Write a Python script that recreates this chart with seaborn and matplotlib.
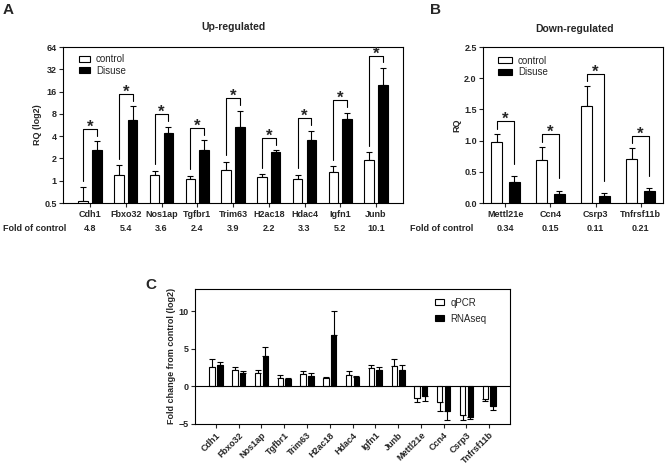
import numpy as np
import pandas as pd
import matplotlib
matplotlib.use('Agg')
import matplotlib.pyplot as plt
import matplotlib.transforms as mtransforms
from matplotlib.ticker import NullLocator
from matplotlib.patches import Patch
import seaborn as sns

# ---- data ----
genes_up = ['Cdh1', 'Fbxo32', 'Nos1ap', 'Tgfbr1', 'Trim63', 'H2ac18', 'Hdac4', 'Igfn1', 'Junb']
ctrl_up = [0.53, 1.21, 1.21, 1.04, 1.39, 1.13, 1.07, 1.32, 1.90]
ctrl_up_err = [0.28, 0.41, 0.14, 0.12, 0.41, 0.09, 0.13, 0.25, 0.53]
dis_up = [2.57, 6.7, 4.47, 2.57, 5.38, 2.44, 3.55, 6.9, 19.4]
dis_up_err = [0.83, 3.4, 0.88, 0.94, 3.42, 0.13, 1.2, 1.4, 14.0]
fold_up = [4.8, 5.4, 3.6, 2.4, 3.9, 2.2, 3.3, 5.2, 10.1]

genes_down = ['Mettl21e', 'Ccn4', 'Csrp3', 'Tnfrsf11b']
ctrl_down = [0.98, 0.69, 1.56, 0.71]
ctrl_down_err = [0.13, 0.21, 0.31, 0.17]
dis_down = [0.33, 0.15, 0.12, 0.20]
dis_down_err = [0.10, 0.05, 0.04, 0.04]
fold_down = [0.34, 0.15, 0.11, 0.21]

genes_all = genes_up + genes_down
qpcr = [2.5, 2.2, 1.75, 1.07, 1.57, 1.03, 1.48, 2.38, 2.69, -1.52, -2.15, -3.9, -1.7]
qpcr_err = [1.1, 0.3, 0.45, 0.36, 0.49, 0.17, 0.49, 0.49, 0.9, 0.58, 1.2, 0.6, 0.27]
rnaseq = [2.8, 1.7, 4.1, 0.95, 1.4, 6.86, 1.25, 2.2, 2.1, -1.26, -3.35, -4.1, -2.6]
rnaseq_err = [0.4, 0.3, 1.1, 0.15, 0.4, 3.24, 0.14, 0.4, 0.68, 0.7, 1.2, 0.3, 0.54]

up_ticks = [0.5, 1, 2, 4, 8, 16, 32, 64]

sns.set_style('ticks')
plt.rcParams['font.family'] = ['Liberation Sans', 'DejaVu Sans']
plt.rcParams['axes.linewidth'] = 0.8
plt.rcParams['xtick.major.width'] = 0.8
plt.rcParams['ytick.major.width'] = 0.8
plt.rcParams['xtick.major.size'] = 3
plt.rcParams['ytick.major.size'] = 3
plt.rcParams['xtick.major.pad'] = 2
plt.rcParams['ytick.major.pad'] = 1.5

TICK = 6.5


def grouped_bars(ax, genes, a, b, a_err, b_err, names, width, gap):
    df = pd.DataFrame({'gene': genes * 2, 'val': a + b,
                       'grp': [names[0]] * len(genes) + [names[1]] * len(genes)})
    sns.barplot(data=df, x='gene', y='val', hue='grp', palette=['white', 'black'],
                edgecolor='black', linewidth=0.8, width=width, gap=gap,
                errorbar=None, legend=False, ax=ax, zorder=2)
    xs_all = []
    for cont, vals, errs in zip(ax.containers, [a, b], [a_err, b_err]):
        xs = [p.get_x() + p.get_width() / 2 for p in cont]
        lo = [e if v < 0 else 0 for v, e in zip(vals, errs)]
        hi = [0 if v < 0 else e for v, e in zip(vals, errs)]
        ax.errorbar(xs, vals, yerr=[lo, hi], fmt='none', ecolor='black',
                    elinewidth=0.8, capsize=2.2, capthick=0.8, zorder=1)
        xs_all.append(xs)
    ax.set_xlabel('')
    return xs_all


def legend(ax, names, x, y, hl, spacing, fs=7):
    handles = [Patch(facecolor='white', edgecolor='black', linewidth=0.8, label=names[0]),
               Patch(facecolor='black', edgecolor='black', linewidth=0.8, label=names[1])]
    ax.legend(handles=handles, loc='upper left', bbox_to_anchor=(x, y), frameon=False,
              borderpad=0, borderaxespad=0, handlelength=hl, handleheight=0.6,
              handletextpad=0.6, labelspacing=spacing,
              prop={'size': fs, 'weight': 'normal'})


def star(ax, x0, x1, top, lend, rend):
    ax.plot([x0, x0, x1, x1], [lend, top, top, rend], color='black', lw=0.8)
    ax.annotate('*', xy=((x0 + x1) / 2, top), xytext=(0, -2), textcoords='offset points',
                ha='center', va='baseline', fontsize=12, fontweight='bold')


fig = plt.figure(figsize=(6.67, 4.67), dpi=100)

# ---- panel A ----
axA = fig.add_axes([0.0945, 0.5653, 0.5097, 0.334])
xs = grouped_bars(axA, genes_up, ctrl_up, dis_up, ctrl_up_err, dis_up_err,
                  ['control', 'Disuse'], 0.76, 0.3)
axA.set_yscale('log', base=2)
axA.set_ylim(0.5, 64)
axA.set_yticks(up_ticks, labels=[f'{t:g}' for t in up_ticks])
axA.yaxis.set_minor_locator(NullLocator())
axA.set_ylabel('RQ (log2)', fontsize=TICK, fontweight='bold', labelpad=2)
for i in range(len(genes_up)):
    c_hi = ctrl_up[i] + ctrl_up_err[i]
    d_hi = dis_up[i] + dis_up_err[i]
    top = max(c_hi, d_hi) * 1.47
    star(axA, xs[0][i], xs[1][i], top, c_hi * 1.23, d_hi * 1.19)
legend(axA, ['control', 'Disuse'], 0.047, 0.955, 1.15, 0.15)

# ---- panel B ----
axB = fig.add_axes([0.7241, 0.5653, 0.2699, 0.334])
xs = grouped_bars(axB, genes_down, ctrl_down, dis_down, ctrl_down_err, dis_down_err,
                  ['control', 'Disuse'], 0.78, 0.38)
axB.set_ylim(0, 2.5)
axB.set_yticks([0, 0.5, 1.0, 1.5, 2.0, 2.5])
axB.set_yticklabels(['0.0', '0.5', '1.0', '1.5', '2.0', '2.5'])
axB.set_ylabel('RQ', fontsize=TICK, fontweight='bold', labelpad=2)
for i in range(len(genes_down)):
    c_hi = ctrl_down[i] + ctrl_down_err[i]
    d_hi = dis_down[i] + dis_down_err[i]
    top = max(c_hi, d_hi) + 0.2
    star(axB, xs[0][i], xs[1][i], top, c_hi + 0.08, d_hi + 0.2)
legend(axB, ['control', 'Disuse'], 0.083, 0.945, 1.45, 0.15)

# ---- panel C ----
axC = fig.add_axes([0.2924, 0.0931, 0.4723, 0.288])
grouped_bars(axC, genes_all, qpcr, rnaseq, qpcr_err, rnaseq_err,
             ['qPCR', 'RNAseq'], 0.68, 0.3)
axC.axhline(0, color='black', lw=0.8, zorder=3)
axC.set_ylim(-5, 13)
axC.set_yticks([-5, 0, 5, 10])
axC.set_ylabel('Fold change from control (log2)', fontsize=TICK, fontweight='bold', labelpad=2)
axC.tick_params(axis='x', rotation=45)
for lab in axC.get_xticklabels():
    lab.set_ha('right')
    lab.set_rotation_mode('anchor')
legend(axC, ['qPCR', 'RNAseq'], 0.762, 0.935, 0.95, 0.6)

for ax in (axA, axB, axC):
    for lab in ax.get_xticklabels() + ax.get_yticklabels():
        lab.set_fontsize(TICK)
        lab.set_fontweight('bold')
    for sp in ax.spines.values():
        sp.set_visible(True)
        sp.set_linewidth(0.8)
        sp.set_color('black')

# ---- fold-of-control rows ----
row_y = 1 - 228.7 / 467
fig.text(0.004, row_y, 'Fold of control', fontsize=TICK, fontweight='bold', va='center')
fig.text(0.6147, row_y, 'Fold of control', fontsize=TICK, fontweight='bold', va='center')
for ax, folds in ((axA, fold_up), (axB, fold_down)):
    trans = mtransforms.blended_transform_factory(ax.transData, fig.transFigure)
    for i, f in enumerate(folds):
        ax.text(i, row_y, str(f), transform=trans, ha='center', va='center',
                fontsize=TICK, fontweight='bold')

# ---- titles and panel letters ----
fig.text(234 / 667, 1 - 26.7 / 467, 'Up-regulated', ha='center', va='center',
         fontsize=7.5, fontweight='bold')
fig.text(575 / 667, 1 - 29.3 / 467, 'Down-regulated', ha='center', va='center',
         fontsize=7.5, fontweight='bold')
fig.text(0.004, 0.994, 'A', fontsize=11, fontweight='bold', va='top')
fig.text(430 / 667, 0.994, 'B', fontsize=11, fontweight='bold', va='top')
fig.text(145 / 667, 1 - 278 / 467, 'C', fontsize=11, fontweight='bold', va='top')

fig.savefig('out.png', dpi=100)
